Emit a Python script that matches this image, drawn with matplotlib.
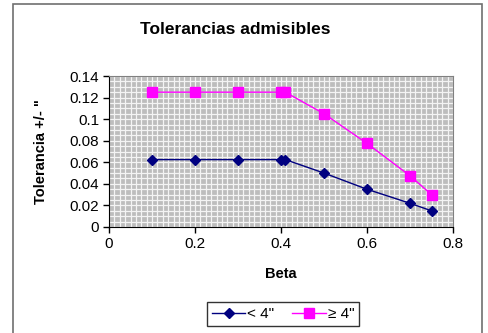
import matplotlib.pyplot as plt
import numpy as np
from matplotlib.patches import Rectangle

beta = [0.1, 0.2, 0.3, 0.4, 0.41, 0.5, 0.6, 0.7, 0.75]
tol_small = [0.0625, 0.0625, 0.0625, 0.0625, 0.0625, 0.05, 0.035, 0.022, 0.015]
tol_large = [0.125, 0.125, 0.125, 0.125, 0.125, 0.105, 0.0775, 0.0475, 0.03]
labels = ['< 4"', '\u2265 4"']
x_ticks = [0, 0.2, 0.4, 0.6, 0.8]
y_ticks = [0, 0.02, 0.04, 0.06, 0.08, 0.1, 0.12, 0.14]

plt.rcParams['font.family'] = ['Liberation Sans', 'DejaVu Sans']

fig = plt.figure(figsize=(4.88, 3.33), dpi=100)
ax = fig.add_axes([109 / 488, 1 - 227 / 333, 344 / 488, 151 / 333])

# outer chart border (open at the bottom, like the cropped original)
fig.patches.append(Rectangle(
    (13 / 488, -0.05), 469 / 488, 1.05 - 4 / 333,
    transform=fig.transFigure, fill=False,
    edgecolor='#707070', linewidth=1.2,
))

ax.set_facecolor('#bdbdbd')
ax.set_xlim(0, 0.8)
ax.set_ylim(0, 0.14)
ax.set_xticks(x_ticks)
ax.set_xticklabels([f"{v:g}" for v in x_ticks])
ax.set_yticks(y_ticks)
ax.set_yticklabels([f"{v:g}" for v in y_ticks])

# fine pattern background
ax.set_xticks(np.arange(0, 0.8001, 0.0125), minor=True)
ax.set_yticks(np.arange(0, 0.14001, 0.005), minor=True)
ax.grid(which='both', color='#f4f4f4', linewidth=0.9)
ax.tick_params(which='minor', length=0)
ax.tick_params(which='major', direction='out', length=4, width=1,
               labelsize=11, pad=3)
ax.set_axisbelow(True)

for side in ('top', 'right'):
    ax.spines[side].set_color('#808080')
for side in ('left', 'bottom'):
    ax.spines[side].set_color('black')

ax.plot(beta, tol_small, color='#000080', marker='D', markersize=5,
        linewidth=1, label=labels[0])
ax.plot(beta, tol_large, color='#ff00ff', marker='s', markersize=6.5,
        linewidth=1, label=labels[1])

fig.text(235 / 488, 1 - 30 / 333, 'Tolerancias admisibles', fontsize=12.5,
         fontweight='bold', ha='center', va='center')
ax.set_xlabel('Beta', fontsize=10.5, fontweight='bold', labelpad=12)
ax.set_ylabel('Tolerancia +/- "', fontsize=10.5, fontweight='bold')
ax.yaxis.set_label_coords((48 - 109) / 344, 0.5)

leg = fig.legend(loc='center', bbox_to_anchor=(283 / 488, 1 - 314 / 333),
                 ncol=2, fontsize=11, frameon=True, fancybox=False,
                 edgecolor='black', handlelength=2.2, handletextpad=0.1,
                 columnspacing=1.2, borderpad=0.3)
leg.get_frame().set_linewidth(1)

fig.savefig('out.png', dpi=100)
